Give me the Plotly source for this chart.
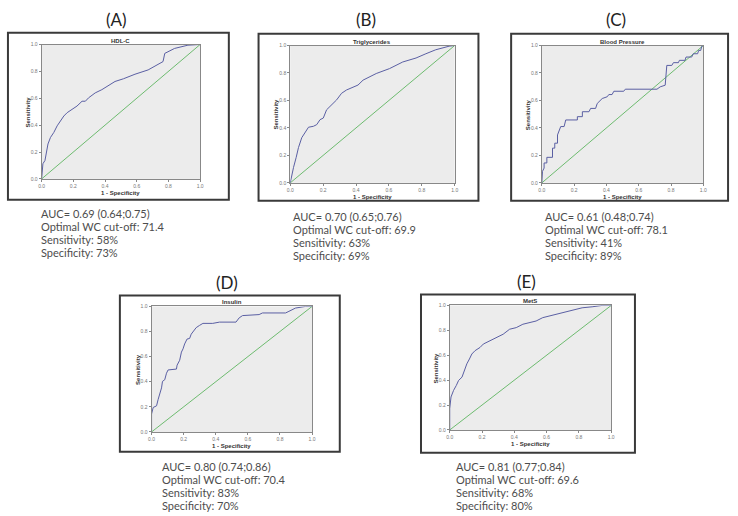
import plotly.graph_objects as go

W, H = 738, 516

# ---------------- data ----------------
panel_labels = ["(A)", "(B)", "(C)", "(D)", "(E)"]
panel_titles = ["HDL-C", "Triglycerides", "Blood Pressure", "Insulin", "MetS"]
auc_text = ["AUC= 0.69 (0.64;0.75)", "AUC= 0.70 (0.65;0.76)", "AUC= 0.61 (0.48;0.74)",
            "AUC= 0.80 (0.74;0.86)", "AUC= 0.81 (0.77;0.84)"]
cutoff_text = ["Optimal WC cut-off: 71.4", "Optimal WC cut-off: 69.9", "Optimal WC cut-off: 78.1",
               "Optimal WC cut-off: 70.4", "Optimal WC cut-off: 69.6"]
sens_text = ["Sensitivity: 58%", "Sensitivity: 63%", "Sensitivity: 41%",
             "Sensitivity: 83%", "Sensitivity: 68%"]
spec_text = ["Specificity: 73%", "Specificity: 69%", "Specificity: 89%",
             "Specificity: 70%", "Specificity: 80%"]
tick_vals = [0.0, 0.2, 0.4, 0.6, 0.8, 1.0]
tick_labels = ["0.0", "0.2", "0.4", "0.6", "0.8", "1.0"]
diag_x = [0.0, 1.0]
diag_y = [0.0, 1.0]

fpr_a = [0, 0.008, 0.021, 0.031, 0.040, 0.056, 0.077, 0.098, 0.119, 0.140, 0.161, 0.192, 0.223,
         0.255, 0.276, 0.296, 0.338, 0.380, 0.432, 0.463, 0.516, 0.589, 0.672, 0.745, 0.766,
         0.777, 0.839, 0.923, 1.0]
tpr_a = [0, 0.113, 0.137, 0.211, 0.260, 0.309, 0.346, 0.395, 0.431, 0.468, 0.493, 0.517, 0.542,
         0.578, 0.578, 0.603, 0.640, 0.664, 0.701, 0.725, 0.745, 0.779, 0.811, 0.860, 0.873,
         0.934, 0.971, 0.995, 1.0]

fpr_b = [0, 0.010, 0.020, 0.036, 0.050, 0.070, 0.091, 0.111, 0.141, 0.161, 0.181, 0.201, 0.221,
         0.282, 0.312, 0.342, 0.412, 0.443, 0.523, 0.604, 0.684, 0.765, 0.825, 0.885, 0.966, 1.0]
tpr_b = [0, 0.065, 0.113, 0.185, 0.257, 0.329, 0.365, 0.405, 0.412, 0.424, 0.460, 0.472, 0.532,
         0.604, 0.652, 0.676, 0.712, 0.748, 0.796, 0.832, 0.880, 0.909, 0.940, 0.969, 0.995, 1.0]

fpr_c = [0, 0.004, 0.014, 0.014, 0.031, 0.031, 0.066, 0.066, 0.080, 0.080, 0.097, 0.097, 0.117,
         0.138, 0.148, 0.220, 0.220, 0.251, 0.251, 0.292, 0.302, 0.333, 0.343, 0.374, 0.405,
         0.415, 0.435, 0.446, 0.507, 0.517, 0.713, 0.733, 0.764, 0.774, 0.805, 0.815, 0.846,
         0.852, 0.887, 0.893, 0.928, 0.938, 0.965, 0.971, 0.984, 0.990, 1.0]
tpr_c = [0, 0.084, 0.108, 0.145, 0.145, 0.186, 0.186, 0.253, 0.253, 0.289, 0.289, 0.349, 0.410,
         0.410, 0.458, 0.458, 0.482, 0.482, 0.518, 0.518, 0.542, 0.542, 0.578, 0.614, 0.627,
         0.643, 0.643, 0.667, 0.667, 0.682, 0.682, 0.699, 0.711, 0.855, 0.855, 0.875, 0.875,
         0.892, 0.892, 0.916, 0.916, 0.940, 0.940, 0.964, 0.964, 0.993, 1.0]

fpr_d = [0, 0, 0.010, 0.031, 0.041, 0.052, 0.062, 0.068, 0.082, 0.093, 0.103, 0.155, 0.159, 0.175,
         0.186, 0.196, 0.206, 0.221, 0.237, 0.247, 0.262, 0.278, 0.299, 0.320, 0.381, 0.423,
         0.526, 0.546, 0.567, 0.670, 0.691, 0.835, 0.856, 0.897, 0.959, 1.0]
tpr_d = [0, 0.143, 0.195, 0.208, 0.260, 0.299, 0.351, 0.403, 0.416, 0.468, 0.494, 0.501, 0.532,
         0.571, 0.636, 0.662, 0.701, 0.740, 0.745, 0.779, 0.805, 0.831, 0.849, 0.865, 0.865,
         0.875, 0.875, 0.909, 0.927, 0.935, 0.948, 0.948, 0.961, 0.987, 1.0, 1.0]

fpr_e = [0, 0, 0.008, 0.014, 0.024, 0.041, 0.055, 0.076, 0.086, 0.096, 0.106, 0.122, 0.137, 0.157,
         0.188, 0.208, 0.249, 0.290, 0.331, 0.371, 0.412, 0.453, 0.494, 0.535, 0.576, 0.616,
         0.657, 0.698, 0.739, 0.780, 0.820, 0.882, 0.943, 1.0]
tpr_e = [0, 0.172, 0.265, 0.292, 0.318, 0.358, 0.398, 0.424, 0.464, 0.491, 0.531, 0.570, 0.610,
         0.637, 0.663, 0.690, 0.716, 0.743, 0.769, 0.809, 0.822, 0.849, 0.862, 0.875, 0.902,
         0.915, 0.928, 0.947, 0.960, 0.968, 0.981, 0.989, 1.0, 1.0]

fprs = [fpr_a, fpr_b, fpr_c, fpr_d, fpr_e]
tprs = [tpr_a, tpr_b, tpr_c, tpr_d, tpr_e]

# ---------------- layout (pixel geometry) ----------------
plot_px = [(39, 199, 42, 178), (290, 456, 43, 182), (544, 707, 43, 182),
           (150, 312, 307, 434), (451, 614, 306, 432)]
box_px = [(5, 228, 30, 199), (258, 480, 31, 200), (513, 732, 31, 200),
          (118, 340, 296, 454), (422, 638, 295, 455)]
label_px = [(115, 17), (366, 17), (619, 17), (226, 283), (529, 282)]
text_px = [(36, 213), (291, 216), (545, 216), (158, 469), (455, 469)]

CURVE = "#5a5fa3"
DIAG = "#6dbb6f"
TEXT = "#4d4d4d"


def px(x):
    return x / W


def py(y):
    return 1 - y / H


fig = go.Figure()
layout = dict(width=W, height=H, margin=dict(l=0, r=0, t=0, b=0),
              paper_bgcolor="white", plot_bgcolor="#ececec", showlegend=False)
annotations = []
shapes = []

for i in range(5):
    sfx = "" if i == 0 else str(i + 1)
    xa, ya = "x" + sfx, "y" + sfx
    x0, x1, y0, y1 = plot_px[i]
    fig.add_trace(go.Scatter(x=diag_x, y=diag_y, mode="lines", xaxis=xa, yaxis=ya,
                             line=dict(color=DIAG, width=1), hoverinfo="skip"))
    fig.add_trace(go.Scatter(x=fprs[i], y=tprs[i], mode="lines", xaxis=xa, yaxis=ya,
                             line=dict(color=CURVE, width=1)))
    ax_common = dict(range=[0, 1], tickvals=tick_vals, ticktext=tick_labels,
                     tickfont=dict(size=5, color="#777777", family="Liberation Sans"),
                     showgrid=False, zeroline=False, showline=True, mirror=True,
                     linecolor="#888888", linewidth=1, ticks="outside", ticklen=2,
                     tickcolor="#888888", fixedrange=True)
    layout["xaxis" + sfx] = dict(ax_common, domain=[px(x0), px(x1)], anchor=ya)
    layout["yaxis" + sfx] = dict(ax_common, domain=[py(y1), py(y0)], anchor=xa)

    # outer frame
    bx0, bx1, by0, by1 = box_px[i]
    shapes.append(dict(type="rect", xref="paper", yref="paper",
                       x0=px(bx0), x1=px(bx1), y0=py(by1), y1=py(by0),
                       line=dict(color="#3a3a3a", width=2), fillcolor="rgba(0,0,0,0)"))

    # panel label
    lx, ly = label_px[i]
    annotations.append(dict(text=panel_labels[i], x=px(lx), y=py(ly), xref="paper", yref="paper",
                            showarrow=False, xanchor="center", yanchor="middle",
                            font=dict(size=17, color="#222222", family="Lato")))
    # subplot title
    annotations.append(dict(text="<b>" + panel_titles[i] + "</b>", x=px((x0 + x1) / 2),
                            y=py(y0 - 4), xref="paper", yref="paper", showarrow=False,
                            xanchor="center", yanchor="middle",
                            font=dict(size=6, color="#333333", family="Liberation Sans")))
    # axis titles
    annotations.append(dict(text="<b>1 - Specificity</b>", x=px((x0 + x1) / 2),
                            y=py(y1 + 14), xref="paper", yref="paper", showarrow=False,
                            xanchor="center", yanchor="middle",
                            font=dict(size=6, color="#333333", family="Liberation Sans")))
    annotations.append(dict(text="<b>Sensitivity</b>", x=px(x0 - 14),
                            y=py((y0 + y1) / 2), xref="paper", yref="paper", showarrow=False,
                            textangle=-90, xanchor="center", yanchor="middle",
                            font=dict(size=6, color="#333333", family="Liberation Sans")))
    # statistics text
    tx, ty = text_px[i]
    for k, line in enumerate([auc_text[i], cutoff_text[i], sens_text[i], spec_text[i]]):
        annotations.append(dict(text=line, x=px(tx), y=py(ty + k * 13.3), xref="paper",
                                yref="paper", showarrow=False, xanchor="left",
                                yanchor="middle",
                                font=dict(size=11, color=TEXT, family="Lato")))

layout["annotations"] = annotations
layout["shapes"] = shapes
fig.update_layout(**layout)
fig.write_html("out.html", config={"displayModeBar": False},
               post_script="document.body.style.margin='0';")
